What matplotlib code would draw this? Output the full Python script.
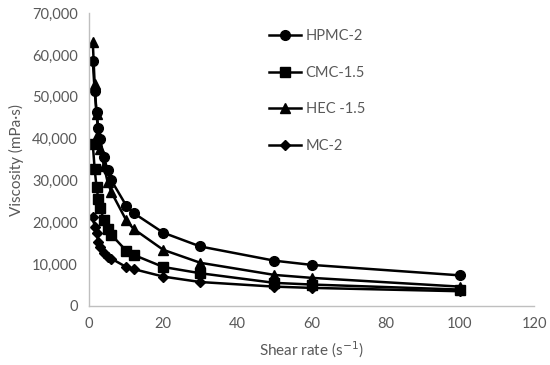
import matplotlib
matplotlib.use("Agg")
import matplotlib.pyplot as plt
from matplotlib.ticker import FuncFormatter

plt.rcParams['font.family'] = ['Lato', 'DejaVu Sans']

shear_rate = [1, 1.5, 2, 2.5, 3, 4, 5, 6, 10, 12, 20, 30, 50, 60, 100]
hpmc2 = [58500, 51300, 46300, 42500, 39800, 35500, 32500, 30000, 24000, 22200, 17500, 14200, 10800, 9800, 7300]
cmc15 = [38600, 32700, 28400, 25500, 23300, 20500, 18500, 17000, 13200, 12200, 9300, 7800, 5500, 5100, 3900]
hec15 = [63000, 53000, 46000, 41000, 37500, 33500, 29600, 27200, 20500, 18400, 13400, 10300, 7400, 6700, 4600]
mc2 = [21200, 18900, 17400, 15300, 14100, 12600, 11700, 11300, 9300, 8800, 7000, 5700, 4600, 4300, 3500]

series = [
    ("HPMC-2", hpmc2, "o", 7),
    ("CMC-1.5", cmc15, "s", 6.5),
    ("HEC -1.5", hec15, "^", 7),
    ("MC-2", mc2, "D", 5),
]

fig = plt.figure(figsize=(5.5, 3.65), dpi=100)
ax = fig.add_axes([0.162, 0.162, 0.809, 0.802])

for name, vals, mk, ms in series:
    ax.plot(shear_rate, vals, color="black", linewidth=1.8, marker=mk,
            markersize=ms, label=name)

ax.set_xlim(0, 120)
ax.set_ylim(0, 70000)
ax.set_xticks(range(0, 121, 20))
ax.set_yticks(range(0, 70001, 10000))
ax.yaxis.set_major_formatter(FuncFormatter(lambda v, p: f"{int(v):,}"))

for s in ["top", "right"]:
    ax.spines[s].set_visible(False)
for s in ["left", "bottom"]:
    ax.spines[s].set_color("#bfbfbf")
    ax.spines[s].set_linewidth(1.0)
ax.tick_params(length=0, labelsize=10.5, colors="#595959", pad=8)

ax.set_xlabel("Shear rate (s$^{-1}$)", fontsize=11, color="#595959", labelpad=6)
ax.set_ylabel("Viscosity (mPa·s)", fontsize=11, color="#595959", labelpad=6)

leg = ax.legend(loc="upper left", bbox_to_anchor=(0.375, 0.99), frameon=False,
                fontsize=10.5, labelspacing=1.55, handlelength=2.2,
                handletextpad=0.3)
for t in leg.get_texts():
    t.set_color("#595959")

fig.savefig("out.png", dpi=100)
